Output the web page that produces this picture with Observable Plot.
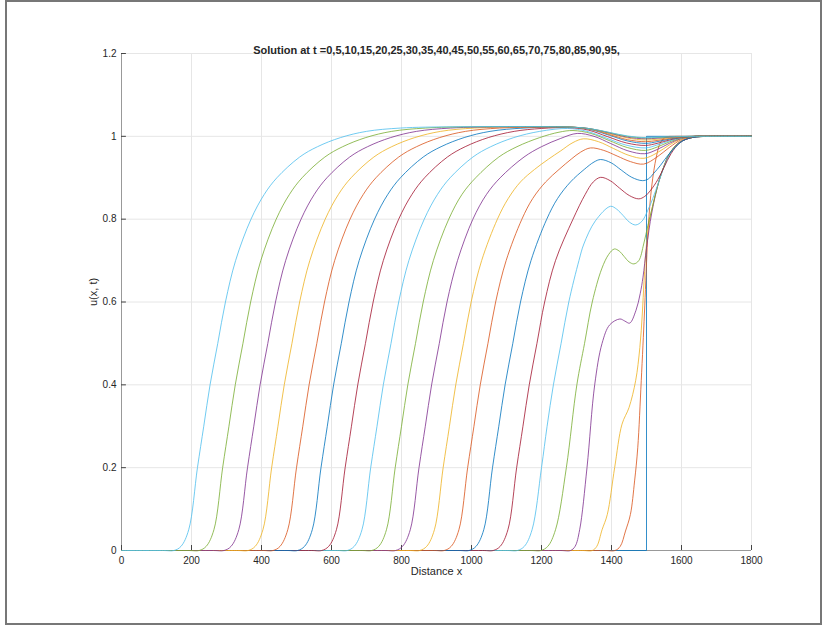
<!DOCTYPE html>
<html><head><meta charset="utf-8">
<script src="https://cdn.jsdelivr.net/npm/d3@7"></script>
<script src="https://cdn.jsdelivr.net/npm/@observablehq/plot@0.6"></script>
<style>
body{margin:0;background:#fff;}
#wrap{position:relative;width:824px;height:625px;}
#frame{position:absolute;left:5px;top:0;width:817px;height:625px;border:2px solid #777;box-sizing:border-box;pointer-events:none;}
</style></head><body><div id="wrap"><div id="frame"></div></div>
<script>
const title = "Solution at t =0,5,10,15,20,25,30,35,40,45,50,55,60,65,70,75,80,85,90,95,";
const times = [0,5,10,15,20,25,30,35,40,45,50,55,60,65,70,75,80,85,90,95];
const palette = ["#0072BD","#D95319","#EDB120","#7E2F8E","#77AC30","#4DBEEE","#A2142F"];
const xTicks = [0,200,400,600,800,1000,1200,1400,1600,1800];
const yTicks = [0,0.2,0.4,0.6,0.8,1,1.2];
const yTickLabels = ["0","0.2","0.4","0.6","0.8","1","1.2"];

const u0 = [[0,0],[1500,0],[1500,1],[1800,1]];
const u5 = [[0,0],[1380,0],[1410,0],[1425,0.01],[1440,0.047],[1454,0.087],[1466,0.168],[1475,0.248],[1485,0.41],[1494,0.571],[1498,0.651],[1505,0.78],[1515,0.88],[1528,0.95],[1540,0.985],[1555,0.998],[1580,1],[1620,1],[1800,1]];
const u10 = [[0,0],[1315,0],[1345,0],[1358,0.01],[1373,0.05],[1388,0.087],[1409,0.2],[1430,0.305],[1450,0.345],[1469,0.41],[1481,0.49],[1488,0.571],[1493,0.651],[1500,0.74],[1512,0.81],[1535,0.89],[1551,0.93],[1565,0.957],[1593,0.985],[1630,0.997],[1680,1],[1720,1],[1800,1]];
const u15 = [[0,0],[1253,0],[1283,0],[1296,0.01],[1309,0.05],[1330,0.2],[1352,0.4],[1373,0.5],[1395,0.545],[1424,0.559],[1438,0.554],[1452,0.549],[1470,0.58],[1482,0.62],[1490,0.66],[1500,0.73],[1515,0.815],[1535,0.89],[1551,0.93],[1565,0.957],[1593,0.985],[1630,0.997],[1680,1],[1720,1],[1800,1]];
const u20 = [[0,0],[1168,0],[1198,0],[1218,0.01],[1240,0.05],[1271,0.2],[1301,0.4],[1323,0.5],[1345,0.6],[1372,0.68],[1392,0.715],[1408,0.728],[1422,0.723],[1436,0.71],[1450,0.697],[1464,0.692],[1478,0.7],[1492,0.74],[1504,0.785],[1517,0.83],[1535,0.89],[1551,0.93],[1565,0.957],[1593,0.985],[1630,0.997],[1680,1],[1720,1],[1800,1]];
const u25 = [[0,0],[1101,0],[1131,0],[1151,0.01],[1173,0.05],[1200,0.2],[1216,0.3],[1234,0.4],[1256,0.5],[1278,0.6],[1307,0.7],[1321,0.74],[1354,0.796],[1397,0.831],[1415,0.824],[1433,0.809],[1451,0.793],[1469,0.786],[1487,0.795],[1503,0.82],[1518,0.85],[1535,0.89],[1552,0.93],[1568,0.958],[1595,0.985],[1630,0.997],[1680,1],[1720,1],[1800,1]];
const u30 = [[0,0],[1032,0],[1062,0],[1082,0.01],[1104,0.05],[1129,0.2],[1147,0.3],[1165,0.4],[1187,0.5],[1209,0.6],[1240,0.7],[1290,0.8],[1325,0.86],[1348,0.89],[1369,0.901],[1396,0.893],[1423,0.875],[1451,0.857],[1478,0.849],[1495,0.855],[1512,0.87],[1532,0.895],[1550,0.925],[1570,0.958],[1596,0.985],[1630,0.997],[1680,1],[1720,1],[1800,1]];
const u35 = [[0,0],[963,0],[993,0],[1013,0.01],[1035,0.05],[1060,0.2],[1078,0.3],[1096,0.4],[1118,0.5],[1140,0.6],[1170,0.7],[1215,0.8],[1246,0.85],[1283,0.89],[1322,0.92],[1350,0.938],[1369,0.944],[1399,0.936],[1428,0.9185],[1458,0.901],[1488,0.893],[1505,0.897],[1520,0.91],[1540,0.93],[1562,0.955],[1585,0.976],[1610,0.992],[1645,0.999],[1690,1],[1730,1],[1800,1]];
const u40 = [[0,0],[892,0],[922,0],[942,0.01],[964,0.05],[989,0.2],[1007,0.3],[1025,0.4],[1047,0.5],[1069,0.6],[1099,0.7],[1144,0.8],[1175,0.85],[1212,0.89],[1250,0.92],[1285,0.945],[1312,0.962],[1340,0.972],[1378,0.966],[1416,0.9525],[1454,0.939],[1492,0.933],[1530,0.95],[1565,0.973],[1600,0.992],[1640,1],[1680,1],[1800,1]];
const u45 = [[0,0],[822,0],[852,0],[872,0.01],[894,0.05],[919,0.2],[937,0.3],[955,0.4],[977,0.5],[999,0.6],[1029,0.7],[1074,0.8],[1105,0.85],[1140,0.89],[1180,0.92],[1220,0.945],[1255,0.965],[1290,0.985],[1320,0.994],[1363,0.987],[1406,0.9705],[1450,0.954],[1493,0.947],[1530,0.96],[1565,0.979],[1600,0.994],[1640,1],[1680,1],[1800,1]];
const u50 = [[0,0],[753,0],[783,0],[803,0.01],[825,0.05],[850,0.2],[868,0.3],[886,0.4],[908,0.5],[930,0.6],[960,0.7],[1004,0.8],[1043,0.86],[1082,0.9],[1150,0.95],[1200,0.975],[1255,0.995],[1302,1.007],[1350,1.0],[1398,0.9825],[1447,0.965],[1495,0.958],[1530,0.968],[1565,0.983],[1600,0.995],[1640,1],[1680,1],[1800,1]];
const u55 = [[0,0],[685,0],[715,0],[735,0.01],[757,0.05],[782,0.2],[800,0.3],[818,0.4],[840,0.5],[862,0.6],[891,0.7],[935,0.8],[973,0.86],[1012,0.9],[1078,0.95],[1130,0.975],[1195,0.997],[1250,1.01],[1290,1.014],[1341,1.007],[1393,0.99],[1445,0.973],[1497,0.966],[1530,0.974],[1565,0.9864],[1600,0.9959],[1640,1],[1680,1],[1800,1]];
const u60 = [[0,0],[615,0],[645,0],[665,0.01],[687,0.05],[712,0.2],[730,0.3],[748,0.4],[770,0.5],[792,0.6],[821,0.7],[865,0.8],[903,0.86],[939,0.9],[1004,0.95],[1055,0.975],[1121,0.997],[1195,1.012],[1275,1.019],[1330,1.012],[1386,0.9955],[1441,0.979],[1497,0.972],[1530,0.979],[1565,0.9888],[1600,0.9966],[1640,1],[1680,1],[1800,1]];
const u65 = [[0,0],[542,0],[572,0],[592,0.01],[614,0.05],[639,0.2],[657,0.3],[675,0.4],[697,0.5],[719,0.6],[748,0.7],[792,0.8],[830,0.86],[866,0.9],[931,0.95],[982,0.975],[1048,0.997],[1122,1.012],[1200,1.019],[1280,1.021],[1334,1.015],[1388,0.9995],[1443,0.984],[1497,0.978],[1530,0.983],[1565,0.991],[1600,0.9974],[1640,1],[1680,1],[1800,1]];
const u70 = [[0,0],[473,0],[503,0],[523,0.01],[545,0.05],[570,0.2],[588,0.3],[606,0.4],[628,0.5],[650,0.6],[679,0.7],[723,0.8],[761,0.86],[797,0.9],[862,0.95],[913,0.975],[979,0.997],[1053,1.012],[1150,1.02],[1290,1.022],[1342,1.016],[1394,1.0025],[1445,0.989],[1497,0.983],[1530,0.987],[1565,0.9932],[1600,0.998],[1640,1],[1680,1],[1800,1]];
const u75 = [[0,0],[403,0],[433,0],[453,0.01],[475,0.05],[500,0.2],[518,0.3],[536,0.4],[558,0.5],[580,0.6],[609,0.7],[653,0.8],[691,0.86],[727,0.9],[792,0.95],[843,0.975],[909,0.997],[983,1.012],[1080,1.02],[1200,1.022],[1290,1.022],[1342,1.017],[1394,1.0045],[1445,0.992],[1497,0.987],[1530,0.99],[1565,0.9948],[1600,0.9984],[1640,1],[1680,1],[1800,1]];
const u80 = [[0,0],[332,0],[362,0],[382,0.01],[404,0.05],[429,0.2],[447,0.3],[465,0.4],[487,0.5],[509,0.6],[538,0.7],[582,0.8],[620,0.86],[656,0.9],[721,0.95],[772,0.975],[838,0.997],[912,1.012],[1009,1.02],[1150,1.023],[1290,1.022],[1342,1.017],[1394,1.0065],[1445,0.996],[1497,0.991],[1530,0.993],[1565,0.9964],[1600,0.9989],[1640,1],[1680,1],[1800,1]];
const u85 = [[0,0],[263,0],[293,0],[313,0.01],[335,0.05],[360,0.2],[378,0.3],[396,0.4],[418,0.5],[440,0.6],[469,0.7],[513,0.8],[551,0.86],[587,0.9],[652,0.95],[703,0.975],[769,0.997],[843,1.012],[940,1.02],[1100,1.023],[1290,1.022],[1342,1.018],[1394,1.008],[1445,0.998],[1497,0.994],[1530,0.9955],[1565,0.9976],[1600,0.9993],[1640,1],[1680,1],[1800,1]];
const u90 = [[0,0],[192,0],[222,0],[242,0.01],[264,0.05],[289,0.2],[307,0.3],[325,0.4],[347,0.5],[369,0.6],[398,0.7],[442,0.8],[480,0.86],[516,0.9],[581,0.95],[632,0.975],[698,0.997],[772,1.012],[869,1.02],[1000,1.023],[1290,1.022],[1342,1.018],[1394,1.009],[1445,1.0],[1497,0.996],[1530,0.997],[1565,0.9984],[1600,0.9995],[1640,1],[1680,1],[1800,1]];
const u95 = [[0,0],[120,0],[150,0],[170,0.01],[192,0.05],[217,0.2],[235,0.3],[253,0.4],[275,0.5],[297,0.6],[326,0.7],[370,0.8],[408,0.86],[444,0.9],[509,0.95],[560,0.975],[626,0.997],[700,1.012],[797,1.02],[950,1.023],[1290,1.022],[1342,1.018],[1394,1.0095],[1445,1.001],[1497,0.997],[1530,0.998],[1565,0.9988],[1600,0.9996],[1640,1],[1680,1],[1800,1]];

const series = [u0,u5,u10,u15,u20,u25,u30,u35,u40,u45,u50,u55,u60,u65,u70,u75,u80,u85,u90,u95];
const stepRows = u0.map(([x,u]) => ({t: 0, x, u}));
const rows = series.slice(1).flatMap((s, k) => s.map(([x,u]) => ({t: times[k+1], x, u})));

const chart = Plot.plot({
  width: 824, height: 625,
  marginTop: 53, marginBottom: 75, marginLeft: 121, marginRight: 73,
  x: {domain: [0, 1800]},
  y: {domain: [0, 1.2]},
  color: {type: "ordinal", domain: times, range: times.map((t, i) => palette[i % 7])},
  style: {fontFamily: "'Liberation Sans', Arial, Helvetica, sans-serif", fontSize: "10px", color: "#262626", background: "transparent"},
  marks: [
    Plot.gridX(xTicks, {stroke: "#e6e6e6", strokeOpacity: 1}),
    Plot.gridY(yTicks, {stroke: "#e6e6e6", strokeOpacity: 1}),
    Plot.axisX(xTicks, {tickSize: 0, tickPadding: 6, label: null, tickFormat: d => String(d)}),
    Plot.axisY(yTicks, {tickSize: 0, tickPadding: 5, label: null, tickFormat: d => yTickLabels[yTicks.indexOf(d)]}),
    Plot.ruleX([0], {stroke: "#999"}),
    Plot.ruleY([0], {stroke: "#999"}),
    Plot.ruleX(xTicks, {x: d => d, y1: 0, y2: 0.012, stroke: "#444"}),
    Plot.ruleY(yTicks, {y: d => d, x1: 0, x2: 14, stroke: "#444"}),
    Plot.line(stepRows, {x: "x", y: "u", stroke: "t", strokeWidth: 0.8}),
    Plot.line(rows, {x: "x", y: "u", z: "t", stroke: "t", curve: "catmull-rom", strokeWidth: 0.8}),
    Plot.text([title], {text: d => d, frameAnchor: "top", dy: -7, fontWeight: "bold", fontSize: 11}),
    Plot.text(["Distance x"], {text: d => d, frameAnchor: "bottom", dy: 24, fontSize: 11}),
    Plot.text(["u(x, t)"], {text: d => d, frameAnchor: "left", dx: -28, dy: 4, rotate: -90, fontSize: 11})
  ]
});
document.getElementById("wrap").prepend(chart);
</script>
</body></html>
